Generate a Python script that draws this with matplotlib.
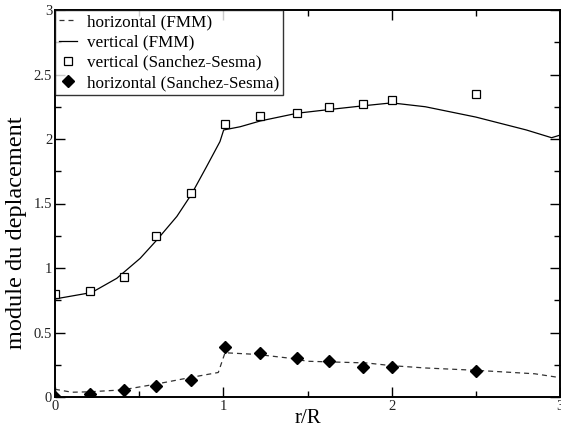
import matplotlib
matplotlib.use("Agg")
import matplotlib.pyplot as plt
from matplotlib.ticker import MultipleLocator

plt.rcParams["font.family"] = ["Liberation Serif", "DejaVu Serif"]

# FMM curves
fmm_h_x = [0.0, 0.1, 0.2, 0.4, 0.6, 0.8, 0.97, 1.01, 1.2, 1.4, 1.5, 1.85, 2.0, 2.2, 2.5, 2.85, 3.0]
fmm_h_y = [0.06, 0.037, 0.04, 0.055, 0.10, 0.15, 0.19, 0.343, 0.33, 0.30, 0.277, 0.264, 0.243, 0.225, 0.207, 0.18, 0.15]

fmm_v_x = [0.0, 0.218, 0.367, 0.506, 0.605, 0.724, 0.81, 0.90, 0.98, 1.002, 1.10, 1.22, 1.44, 1.64, 1.85, 2.0, 2.2, 2.5, 2.8, 2.95, 3.0]
fmm_v_y = [0.76, 0.81, 0.92, 1.075, 1.217, 1.40, 1.57, 1.785, 1.98, 2.07, 2.095, 2.14, 2.20, 2.23, 2.26, 2.28, 2.25, 2.17, 2.07, 2.01, 2.03]

# Sanchez-Sesma reference points
ss_x = [0.0, 0.21, 0.41, 0.6, 0.81, 1.01, 1.22, 1.44, 1.63, 1.83, 2.0, 2.5]
ss_v = [0.80, 0.82, 0.93, 1.25, 1.58, 2.12, 2.18, 2.20, 2.25, 2.27, 2.30, 2.35]
ss_h = [0.0, 0.02, 0.055, 0.086, 0.13, 0.39, 0.34, 0.30, 0.28, 0.23, 0.23, 0.20]

fig = plt.figure(figsize=(5.61, 4.29), dpi=100)
ax = fig.add_axes([55 / 561, 32 / 429, 505 / 561, 387 / 429])

ax.plot(fmm_h_x, fmm_h_y, color="#333333", linestyle=(0, (4, 3.2)), linewidth=0.9,
        label="horizontal (FMM)")
ax.plot(fmm_v_x, fmm_v_y, color="black", linewidth=0.9, label="vertical (FMM)")
ax.plot(ss_x, ss_v, linestyle="none", marker="s", markersize=6.2, markerfacecolor="white",
        markeredgecolor="black", markeredgewidth=0.9, label="vertical (Sanchez-Sesma)")
ax.plot(ss_x, ss_h, linestyle="none", marker="D", markersize=6.3, color="black",
        label="horizontal (Sanchez-Sesma)")

ax.set_xlim(0, 3)
ax.set_ylim(0, 3)
ax.xaxis.set_minor_locator(MultipleLocator(0.5))
ax.yaxis.set_minor_locator(MultipleLocator(0.25))
ax.set_xticks([0, 1, 2, 3])
ax.set_xticklabels(["0", "1", "2", "3"])
ax.set_yticks([0, 0.5, 1, 1.5, 2, 2.5, 3])
ax.set_yticklabels(["0", "0.5", "1", "1.5", "2", "2.5", "3"])

ax.tick_params(which="both", direction="in", top=True, right=True, labelsize=10.5, pad=2,
               labelcolor="#222222")
ax.tick_params(which="major", length=7, width=1)
ax.tick_params(which="minor", length=4, width=1)
for s in ax.spines.values():
    s.set_linewidth(1.4)

ax.set_xlabel("r/R", fontsize=15, labelpad=-3)
ax.set_ylabel("module du deplacement", fontsize=17.5)
ax.yaxis.set_label_coords(-0.055, 0.424)

leg = ax.legend(loc="upper left", borderaxespad=0, fontsize=12.3, frameon=True, fancybox=False,
                handlelength=1.05, handletextpad=0.55, borderpad=0.25, labelspacing=0.25,
                edgecolor="black")
leg.get_frame().set_linewidth(1)

fig.savefig("out.png", dpi=100)
